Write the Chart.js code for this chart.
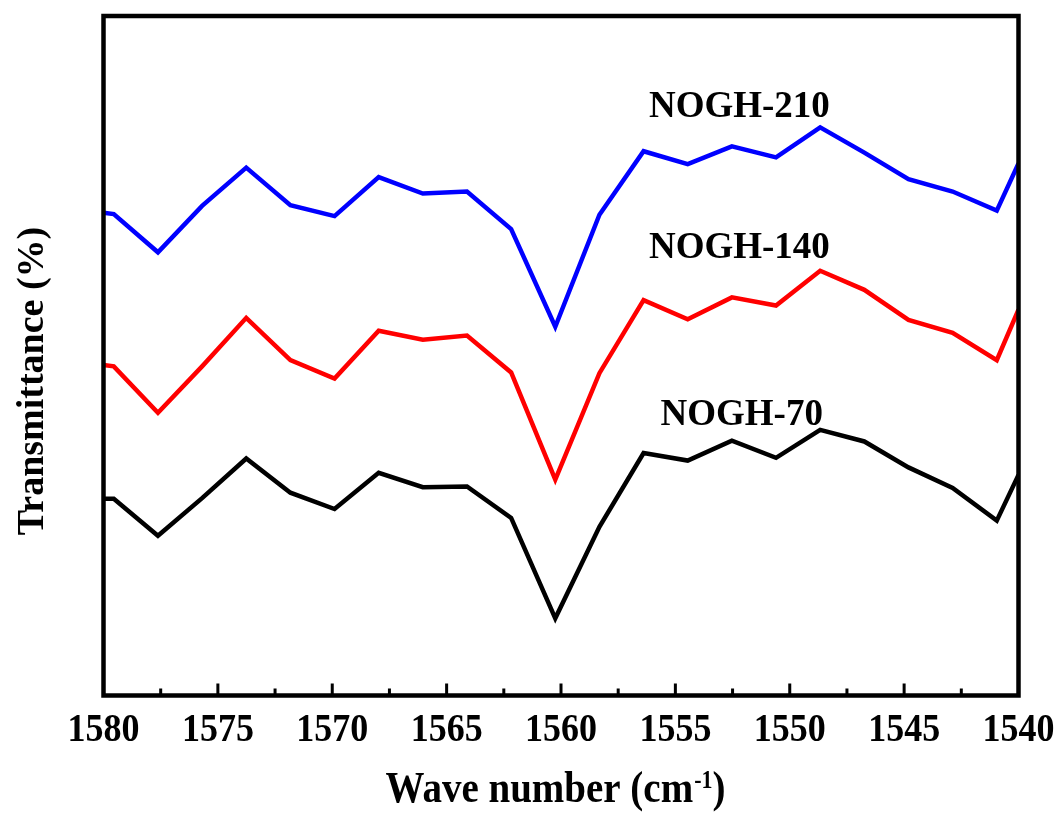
<!DOCTYPE html>
<html>
<head>
<meta charset="utf-8">
<script src="https://cdn.jsdelivr.net/npm/chart.js@4.4.0/dist/chart.umd.min.js"></script>
<style>
  html, body { margin: 0; padding: 0; background: #ffffff; }
  #wrap { width: 1061px; height: 823px; position: relative; }
</style>
</head>
<body>
<div id="wrap"><canvas id="c" width="1061" height="823"></canvas></div>
<script>
// ---- data ----
const wavenumbers = [1580, 1579.55, 1577.62, 1575.69, 1573.76, 1571.83, 1569.90, 1567.97, 1566.04, 1564.11,
  1562.18, 1560.25, 1558.32, 1556.39, 1554.46, 1552.53, 1550.60, 1548.67, 1546.74, 1544.81, 1542.88, 1540.95, 1540];
const nogh210 = [70.9, 70.7, 65.1, 71.9, 77.5, 72.0, 70.4, 76.1, 73.7, 74.0,
  68.5, 54.2, 70.6, 79.9, 78.0, 80.6, 79.0, 83.4, 79.7, 75.8, 74.0, 71.2, 78.1];
const nogh140 = [48.6, 48.4, 41.6, 48.4, 55.5, 49.3, 46.6, 53.6, 52.3, 52.9,
  47.5, 31.8, 47.4, 58.1, 55.3, 58.5, 57.3, 62.4, 59.6, 55.2, 53.3, 49.3, 56.7];
const nogh70 = [29.0, 29.0, 23.6, 29.1, 34.9, 29.9, 27.5, 32.8, 30.7, 30.8,
  26.2, 11.5, 24.9, 35.7, 34.6, 37.5, 35.0, 39.1, 37.4, 33.6, 30.6, 25.8, 32.5];
const seriesNames = ["NOGH-210", "NOGH-140", "NOGH-70"];
const majorTicks = [1580, 1575, 1570, 1565, 1560, 1555, 1550, 1545, 1540];
const minorTicks = [1577.5, 1572.5, 1567.5, 1562.5, 1557.5, 1552.5, 1547.5, 1542.5];
const tickLabels = ["1580", "1575", "1570", "1565", "1560", "1555", "1550", "1545", "1540"];
const xTitle = "Wave number (cm";
const xTitleSup = "-1";
const yTitle = "Transmittance (%)";

// label anchors in data coordinates (centre x, baseline y)
const labelAnchors = [
  { x: 1552.2, y: 84.9 },
  { x: 1552.2, y: 64.3 },
  { x: 1552.1, y: 39.8 }
];

const colors = ["#0000ff", "#ff0000", "#000000"];
const FONT = '"Liberation Serif", "Times New Roman", serif';

function toPts(ys) { return wavenumbers.map((x, i) => ({ x: x, y: ys[i] })); }

function stretchedText(ctx, text, x, y, sy) {
  ctx.save();
  ctx.translate(x, y);
  ctx.scale(1, sy);
  ctx.fillText(text, 0, 0);
  ctx.restore();
}

const decor = {
  id: 'decor',
  afterDatasetsDraw(chart) {
    const ctx = chart.ctx;
    const xs = chart.scales.x, ys = chart.scales.y;
    const a = chart.chartArea;
    ctx.save();
    // series labels
    ctx.fillStyle = '#000';
    ctx.font = 'bold 37px ' + FONT;
    ctx.textAlign = 'center';
    ctx.textBaseline = 'alphabetic';
    seriesNames.forEach((n, i) => {
      ctx.fillText(n, xs.getPixelForValue(labelAnchors[i].x), ys.getPixelForValue(labelAnchors[i].y));
    });
    // frame
    ctx.strokeStyle = '#000';
    ctx.lineWidth = 4.5;
    ctx.lineJoin = 'miter';
    ctx.strokeRect(a.left, a.top, a.right - a.left, a.bottom - a.top);
    // inward ticks on bottom axis
    ctx.lineWidth = 3;
    ctx.beginPath();
    majorTicks.forEach(v => { const px = xs.getPixelForValue(v); ctx.moveTo(px, a.bottom); ctx.lineTo(px, a.bottom - 12); });
    minorTicks.forEach(v => { const px = xs.getPixelForValue(v); ctx.moveTo(px, a.bottom); ctx.lineTo(px, a.bottom - 7); });
    ctx.stroke();
    // tick labels
    ctx.font = 'bold 36px ' + FONT;
    ctx.textAlign = 'center';
    majorTicks.forEach((v, i) => {
      stretchedText(ctx, tickLabels[i], xs.getPixelForValue(v), a.bottom + 45, 1.12);
    });
    // x title with superscript
    const cx = (a.left + a.right) / 2;
    ctx.font = 'bold 39px ' + FONT;
    const w1 = ctx.measureText(xTitle).width;
    const w3 = ctx.measureText(')').width;
    ctx.font = 'bold 22px ' + FONT;
    const w2 = ctx.measureText(xTitleSup).width;
    const total = w1 + w2 + w3;
    let x0 = cx - total / 2 - 6;
    const base = 802;
    ctx.textAlign = 'left';
    ctx.font = 'bold 39px ' + FONT;
    stretchedText(ctx, xTitle, x0, base, 1.12);
    ctx.font = 'bold 22px ' + FONT;
    stretchedText(ctx, xTitleSup, x0 + w1 + 1, base - 14, 1.12);
    ctx.font = 'bold 39px ' + FONT;
    stretchedText(ctx, ')', x0 + w1 + w2 + 1, base, 1.12);
    // y title
    ctx.save();
    ctx.translate(43, 381);
    ctx.rotate(-Math.PI / 2);
    ctx.textAlign = 'center';
    ctx.font = 'bold 38px ' + FONT;
    ctx.fillText(yTitle, 0, 0);
    ctx.restore();
    ctx.restore();
  }
};

new Chart(document.getElementById('c'), {
  type: 'line',
  data: {
    datasets: [nogh210, nogh140, nogh70].map((d, i) => ({
      label: seriesNames[i],
      data: toPts(d),
      borderColor: colors[i],
      backgroundColor: colors[i],
      borderWidth: 4.5,
      pointRadius: 0,
      tension: 0,
      fill: false,
      borderJoinStyle: 'miter',
      clip: 0
    }))
  },
  options: {
    responsive: false,
    animation: false,
    devicePixelRatio: 1,
    layout: { padding: { left: 103.5, right: 42.5, top: 16, bottom: 127.5 } },
    plugins: { legend: { display: false }, tooltip: { enabled: false }, title: { display: false } },
    scales: {
      x: { type: 'linear', min: 1540, max: 1580, reverse: true, display: false },
      y: { type: 'linear', min: 0.2, max: 99.7, display: false }
    }
  },
  plugins: [decor]
});
</script>
</body>
</html>
